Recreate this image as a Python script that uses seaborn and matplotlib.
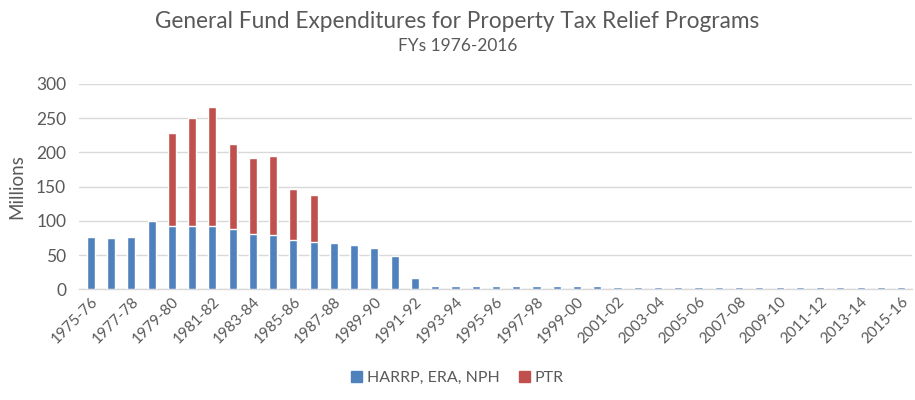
import pandas as pd
import matplotlib.pyplot as plt
import seaborn as sns
from matplotlib.patches import Patch

# Fiscal years 1975-76 .. 2015-16
years = [f"{y}-{str(y + 1)[-2:]}" for y in range(1975, 2016)]

# HARRP, ERA, NPH (millions)
harrp = [77, 74.5, 77, 100, 92.5, 92.5, 92.5, 88, 81, 79, 72, 69,
         67.5, 65, 60, 49, 16.5,
         5, 5, 5, 5, 5, 5, 5, 5, 5,
         2.5, 2.5, 2.5, 2.5, 2.5, 2.5, 2.5, 2.5, 2.5, 2.5, 2.5, 2.5, 2.5, 2.5, 2.5]

# PTR (millions)
ptr = [0, 0, 0, 0, 136.5, 157.5, 173.5, 125, 111, 116, 74, 68,
       0, 0, 0, 0, 0,
       0, 0, 0, 0, 0, 0, 0, 0, 0,
       0, 0, 0, 0, 0, 0, 0, 0, 0, 0, 0, 0, 0, 0, 0]

df = pd.DataFrame({'Year': years, 'HARRP': harrp, 'PTR': ptr})
df['Total'] = df['HARRP'] + df['PTR']

sns.set_theme(style="white")
plt.rcParams['font.family'] = ['Lato', 'DejaVu Sans']

blue = '#4F81BD'
red = '#C0504D'
grey_txt = '#595959'

fig, ax = plt.subplots(figsize=(9.15, 4.0), dpi=100)
fig.subplots_adjust(left=0.086, right=0.997, top=0.79, bottom=0.277)

sns.barplot(data=df, x='Year', y='Total', color=red, width=0.4,
            saturation=1, ax=ax, zorder=3)
sns.barplot(data=df, x='Year', y='HARRP', color=blue, width=0.4,
            saturation=1, ax=ax, zorder=4)

ax.set_ylim(0, 300)
ax.set_yticks(range(0, 301, 50))
ax.yaxis.grid(True, color='#D9D9D9', linewidth=1, zorder=0)
ax.set_axisbelow(True)
ax.set_xlim(-0.6, len(years) - 0.45)

ax.set_xticks(range(0, len(years), 2))
ax.set_xticklabels(years[::2], rotation=45, ha='right', rotation_mode='anchor')
ax.tick_params(axis='x', labelsize=11, colors=grey_txt, length=0, pad=4)
ax.tick_params(axis='y', labelsize=12.5, colors=grey_txt, length=0, pad=9)

for s in ['top', 'right', 'left']:
    ax.spines[s].set_visible(False)
ax.spines['bottom'].set_color('#D9D9D9')
ax.spines['bottom'].set_linewidth(1)
ax.spines['bottom'].set_zorder(1)

ax.set_xlabel('')
ax.set_ylabel('Millions', fontsize=13.5, color=grey_txt, labelpad=8)

fig.text(0.5, 0.945, 'General Fund Expenditures for Property Tax Relief Programs',
         ha='center', va='center', fontsize=16.3, color=grey_txt)
fig.text(0.5, 0.885, 'FYs 1976-2016', ha='center', va='center',
         fontsize=12.5, color=grey_txt)

handles = [Patch(color=blue, label='HARRP, ERA, NPH'), Patch(color=red, label='PTR')]
fig.legend(handles=handles, loc='center', bbox_to_anchor=(0.5, 0.055), ncol=2,
           frameon=False, fontsize=11.5, labelcolor=grey_txt, handlelength=0.7,
           handleheight=0.7, handletextpad=0.3, columnspacing=1.2)

fig.savefig('out.png', dpi=100)
